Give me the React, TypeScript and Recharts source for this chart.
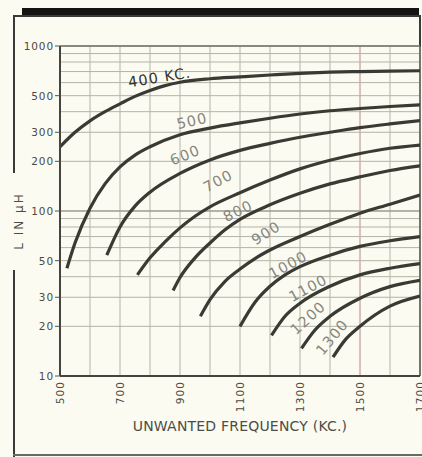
import React from 'react';
import { LineChart, Line, XAxis, YAxis, CartesianGrid, ReferenceLine, ReferenceDot } from 'recharts';

// ---- axis ticks ----
const X_GRID = [500, 600, 700, 800, 900, 1000, 1100, 1200, 1300, 1400, 1500, 1600, 1700];
const X_LABELS = [500, 700, 900, 1100, 1300, 1500, 1700];
const Y_GRID = [10, 20, 30, 40, 50, 60, 70, 80, 90, 100, 200, 300, 400, 500, 600, 700, 800, 900, 1000];
const Y_LABELS = [10, 20, 30, 50, 100, 200, 300, 500, 1000];

// ---- curves: [unwanted frequency (kc), L (µH)] ----
const C400 = [[500, 245], [550, 300], [600, 352], [650, 400], [700, 446], [750, 495], [800, 538], [850, 575], [900, 603], [1000, 633], [1100, 650], [1200, 667], [1300, 683], [1400, 694], [1500, 700], [1600, 705], [1700, 708]];
const C500 = [[523, 45], [550, 64], [600, 104], [650, 146], [700, 185], [750, 218], [800, 245], [900, 290], [1000, 318], [1100, 342], [1200, 365], [1300, 387], [1400, 405], [1500, 418], [1600, 430], [1700, 440]];
const C600 = [[656, 54], [700, 80], [750, 107], [800, 130], [900, 169], [1000, 204], [1100, 233], [1200, 257], [1300, 280], [1400, 300], [1500, 320], [1600, 337], [1700, 353]];
const C700 = [[758, 41], [800, 52], [850, 65], [900, 79], [950, 93], [1000, 106], [1100, 129], [1200, 154], [1300, 180], [1400, 203], [1500, 223], [1600, 240], [1700, 251]];
const C800 = [[877, 33], [900, 39.5], [950, 52], [1000, 64], [1050, 77], [1100, 89], [1200, 109], [1300, 128], [1400, 146], [1500, 161], [1600, 176], [1700, 188]];
const C900 = [[968, 23], [1000, 29], [1050, 37.5], [1100, 44.5], [1150, 51.5], [1200, 58], [1300, 70], [1400, 83], [1500, 97], [1600, 110], [1700, 125]];
const C1000 = [[1100, 20], [1150, 28], [1200, 35], [1250, 41], [1300, 46], [1400, 54], [1500, 61], [1600, 66], [1700, 70]];
const C1100 = [[1205, 17.6], [1250, 23], [1300, 27.6], [1400, 35], [1500, 41], [1600, 45], [1700, 48]];
const C1200 = [[1305, 14.7], [1350, 19], [1400, 23], [1500, 29.6], [1600, 34.8], [1700, 38]];
const C1300 = [[1410, 13], [1450, 16.5], [1500, 20], [1600, 26.5], [1700, 30.5]];

const CURVES = [C400, C500, C600, C700, C800, C900, C1000, C1100, C1200, C1300];

// ---- curve labels (anchored in data units) ----
const CURVE_LABELS = [
  { text: '400 KC.', f: 832, L: 645, angle: -9, dark: true },
  { text: '500', f: 940, L: 351, angle: -13 },
  { text: '600', f: 917, L: 218, angle: -22 },
  { text: '700', f: 1027, L: 152, angle: -28 },
  { text: '800', f: 1093, L: 100, angle: -26 },
  { text: '900', f: 1187, L: 73.6, angle: -32 },
  { text: '1000', f: 1260, L: 47.1, angle: -29 },
  { text: '1100', f: 1327, L: 34.1, angle: -28 },
  { text: '1200', f: 1327, L: 22.5, angle: -42 },
  { text: '1300', f: 1407, L: 17.2, angle: -50 },
];

const BG = '#fbfbf1';
const INK = '#3a3a34';
const FONT = '"DejaVu Sans", Verdana, sans-serif';

const toPts = (arr: number[][]) => arr.map(([f, L]) => ({ f, L }));

const YTick = (props: any) => {
  const { x, y, payload } = props;
  if (!Y_LABELS.includes(payload.value)) return <g />;
  return (
    <g>
      <line x1={x} x2={x + 5} y1={y} y2={y} stroke="#55554e" strokeWidth={1} />
      <text x={x - 1} y={y} textAnchor="end" dominantBaseline="central" fontSize={10.5} letterSpacing={0.9} fill="#4a4a44" fontFamily={FONT}>
        {payload.value}
      </text>
    </g>
  );
};

const XTick = (props: any) => {
  const { x, y, payload } = props;
  if (!X_LABELS.includes(payload.value)) return <g />;
  return (
    <text x={x} y={y} transform={`rotate(-90 ${x} ${y})`} textAnchor="end" dominantBaseline="central" fontSize={10.5} letterSpacing={1.1} fill="#4a4a44" fontFamily={FONT}>
      {payload.value}
    </text>
  );
};

const XTitle = (props: any) => {
  const vb = props.viewBox || { x: 60, y: 376, width: 360, height: 81 };
  return (
    <text x={vb.x + vb.width / 2} y={vb.y + 50} textAnchor="middle" dominantBaseline="central" fontSize={14} letterSpacing={0.2} fill="#4d4d47" fontFamily={FONT}>
      UNWANTED FREQUENCY (KC.)
    </text>
  );
};

const YTitle = (props: any) => {
  const vb = props.viewBox || { x: 0, y: 46, width: 60, height: 330 };
  const cx = vb.x + 19;
  const cy = vb.y + vb.height / 2 + 10;
  return (
    <text x={cx} y={cy} transform={`rotate(-90 ${cx} ${cy})`} textAnchor="middle" dominantBaseline="central" fontSize={12} letterSpacing={2} fill="#4d4d47" fontFamily={FONT}>
      L IN µH
    </text>
  );
};

const makeLabelShape = (lab: any) => (p: any) => {
  const { cx, cy } = p;
  return (
    <text x={cx} y={cy} transform={`rotate(${lab.angle} ${cx} ${cy})`} textAnchor="middle" dominantBaseline="central" fontSize={14.5} letterSpacing={1.1} fill={lab.dark ? '#33332e' : '#86867e'} fontFamily={FONT}>
      {lab.text}
    </text>
  );
};

export default function App() {
  return (
    <div style={{ position: 'absolute', left: 0, top: 0, width: 422, height: 457, background: BG, overflow: 'hidden' }}>
      {/* frame decorations */}
      <div style={{ position: 'absolute', left: 22, top: 8, width: 397, height: 7, background: '#141412' }} />
      <div style={{ position: 'absolute', left: 13, top: 15, width: 407, height: 1.5, background: '#3a3a36' }} />
      <div style={{ position: 'absolute', left: 13, top: 15, width: 1.5, height: 158, background: '#3a3a36' }} />
      <div style={{ position: 'absolute', left: 13, top: 270, width: 1.5, height: 187, background: '#3a3a36' }} />
      <div style={{ position: 'absolute', left: 419, top: 15, width: 1.5, height: 32, background: '#3a3a36' }} />
      <div style={{ position: 'absolute', left: 13, top: 454, width: 409, height: 1.5, background: '#6a6a64' }} />
      <div style={{ position: 'absolute', left: 0, top: 0 }}>
        <LineChart width={422} height={457} margin={{ top: 46, right: 2, bottom: 0, left: 0 }}>
          <CartesianGrid stroke="#b3b3a6" strokeWidth={1} horizontalValues={Y_GRID} verticalValues={X_GRID} />
          <XAxis
            dataKey="f"
            type="number"
            domain={[500, 1700]}
            ticks={X_GRID}
            interval={0}
            height={81}
            tickSize={0}
            tickMargin={5}
            tick={<XTick />}
            axisLine={{ stroke: '#45453f', strokeWidth: 2 }}
            allowDataOverflow
            label={<XTitle />}
          />
          <YAxis
            dataKey="L"
            type="number"
            scale="log"
            domain={[10, 1000]}
            ticks={Y_GRID}
            interval={0}
            width={60}
            tickSize={0}
            tickMargin={5}
            tick={<YTick />}
            axisLine={{ stroke: '#45453f', strokeWidth: 2 }}
            allowDataOverflow
            label={<YTitle />}
          />
          <ReferenceLine x={1500} stroke="#dcaaaa" strokeWidth={1} />
          <ReferenceLine y={100} stroke="#8f8f84" strokeWidth={1.2} />
          <ReferenceLine y={1000} stroke="#6f6f66" strokeWidth={1.5} />
          <ReferenceLine x={1700} stroke="#55554e" strokeWidth={1.5} />
          {CURVES.map((c, i) => (
            <Line
              key={i}
              data={toPts(c)}
              dataKey="L"
              type="monotone"
              stroke={INK}
              strokeWidth={3.2}
              dot={false}
              activeDot={false}
              isAnimationActive={false}
            />
          ))}
          {CURVE_LABELS.map((lab, i) => (
            <ReferenceDot key={'l' + i} x={lab.f} y={lab.L} r={0} ifOverflow="visible" shape={makeLabelShape(lab)} />
          ))}
        </LineChart>
      </div>
    </div>
  );
}
